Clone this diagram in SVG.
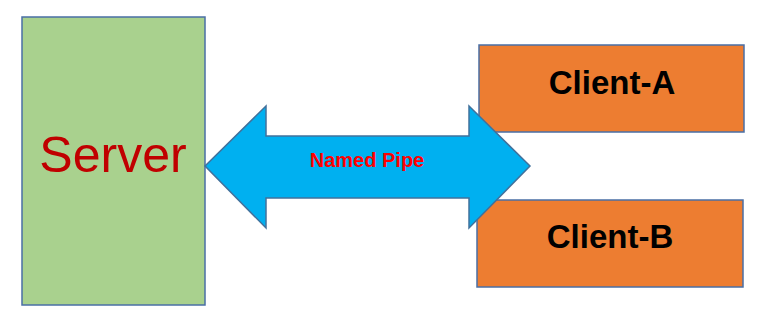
<svg xmlns="http://www.w3.org/2000/svg" width="768" height="331" viewBox="0 0 768 331">
  <style>
    .box { stroke: #4A6FA5; stroke-width: 1.5; }
    .server { fill: #A9D18E; }
    .client { fill: #ED7D31; }
    .pipe { fill: #00B0F0; stroke: #41719C; stroke-width: 1.5; stroke-linejoin: miter; }
    .label { font-family: "Liberation Sans", Arial, sans-serif; text-anchor: middle; }
  </style>
  <rect width="768" height="331" fill="#FFFFFF"/>

  <g id="server">
    <rect class="box server" x="22" y="17" width="183" height="288"/>
    <text class="label" x="113" y="172" font-size="50" fill="#C00000">Server</text>
  </g>

  <g id="client-a">
    <rect class="box client" x="479" y="45" width="265" height="87"/>
    <text class="label" x="612" y="94" font-size="33" font-weight="bold" fill="#000000">Client-A</text>
  </g>

  <g id="client-b">
    <rect class="box client" x="477" y="200" width="266" height="87"/>
    <text class="label" x="610" y="248" font-size="33" font-weight="bold" fill="#000000">Client-B</text>
  </g>

  <g id="connectors">
    <!-- double-headed block arrow between server and clients, drawn over the client boxes -->
    <path class="pipe" d="M205,166 L266,106 L266,136 L469,136 L469,106 L530,166 L469,228 L469,198 L266,198 L266,228 Z"/>
    <text class="label" x="367" y="167" font-size="20" font-weight="bold" fill="#FF0000">Named Pipe</text>
  </g>
</svg>
